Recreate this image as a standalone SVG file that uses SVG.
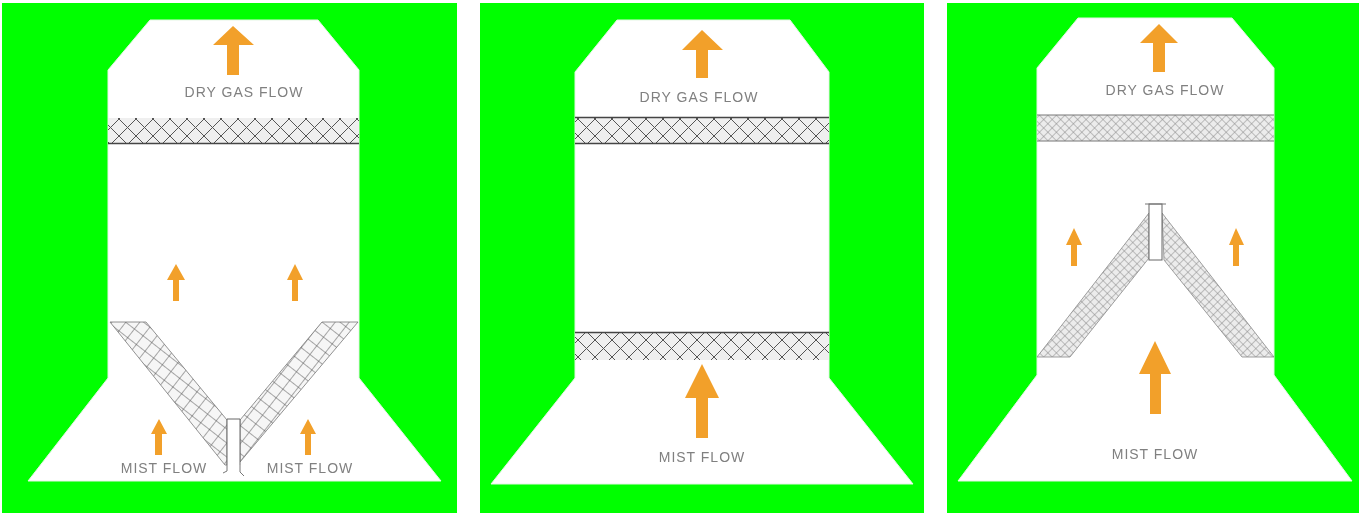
<svg xmlns="http://www.w3.org/2000/svg" width="1359" height="513" viewBox="0 0 1359 513">
<defs>
<filter id="soft" x="-2%" y="-2%" width="104%" height="104%"><feGaussianBlur stdDeviation="0.55"/></filter>
<pattern id="hatchWide" width="17" height="17" patternUnits="userSpaceOnUse">
<rect width="17" height="17" fill="#efefef"/>
<path d="M0 0L17 17M17 0L0 17" stroke="#555" stroke-width="1" fill="none"/>
</pattern>
<pattern id="hatchGrid" width="11" height="11" patternUnits="userSpaceOnUse" patternTransform="rotate(38)">
<rect width="11" height="11" fill="#f6f6f6"/>
<path d="M0 0H11M0 0V11" stroke="#555" stroke-width="1" fill="none"/>
</pattern>
<pattern id="hatchFine" width="6" height="6" patternUnits="userSpaceOnUse" patternTransform="rotate(45)">
<rect width="6" height="6" fill="#ececec"/>
<path d="M0 0H6M0 0V6" stroke="#888" stroke-width="1" fill="none"/>
</pattern>
</defs>
<style>
.bg{fill:#00ff00}
.body{fill:#fff;stroke:#e4f5e4;stroke-width:1}
.arrow{fill:#f2a02a}
.label{font-family:"Liberation Sans",Arial,sans-serif;font-size:14px;fill:#808080;letter-spacing:1px;text-anchor:middle}
.edge{stroke:#444;stroke-width:1.4;fill:none}
.thin{stroke:#777;stroke-width:1;fill:none}
.pipe{fill:#fff;stroke:#666;stroke-width:1}
</style>
<rect width="1359" height="513" fill="#fff"/>
<g filter="url(#soft)">
<g id="panel-1">
<rect class="bg" x="2" y="3" width="455" height="510"/>
<path class="body" d="M150 20H318L359 70V378L441 481H28L108 378V70Z"/>
<g id="pad-1-top">
<rect x="108" y="118" width="251" height="25" fill="url(#hatchWide)"/>
<path class="edge" d="M108 143.500H359"/>
</g>
<g id="pad-1-v">
<path d="M110 322H146L227 420V465L225 465Z" fill="url(#hatchGrid)" stroke="#777" stroke-width="0.8"/>
<path d="M358 322H322L240 420V462Z" fill="url(#hatchGrid)" stroke="#777" stroke-width="0.8"/>
<path class="pipe" d="M227 465V419H240V465"/>
<path class="thin" d="M227 465V471L223 473M240 465V472L244 476"/>
</g>
<polygon class="arrow" points="233,26 254,45 239,45 239,75 227,75 227,45 213,45"/>
<polygon class="arrow" points="176,264 185,280 179,280 179,301 173,301 173,280 167,280"/>
<polygon class="arrow" points="295,264 303,280 298,280 298,301 292,301 292,280 287,280"/>
<polygon class="arrow" points="159,419 167,434 162,434 162,455 155,455 155,434 151,434"/>
<polygon class="arrow" points="308,419 316,434 311,434 311,455 305,455 305,434 300,434"/>
<text class="label" x="244" y="97">DRY GAS FLOW</text>
<text class="label" x="164" y="473">MIST FLOW</text>
<text class="label" x="310" y="473">MIST FLOW</text>
</g>
<g id="panel-2">
<rect class="bg" x="480" y="3" width="444" height="510"/>
<path class="body" d="M617 20H790L829 72V378L913 484H491L575 378V72Z"/>
<g id="pad-2-top">
<rect x="575" y="118" width="254" height="25" fill="url(#hatchWide)"/>
<path class="edge" d="M575 117.500H829M575 143.500H829"/>
</g>
<g id="pad-2-bottom">
<rect x="575" y="333" width="254" height="27" fill="url(#hatchWide)"/>
<path class="edge" d="M575 332.500H829"/>
</g>
<polygon class="arrow" points="702,30 723,50 708,50 708,78 696,78 696,50 682,50"/>
<polygon class="arrow" points="702,364 719,398 708,398 708,438 696,438 696,398 685,398"/>
<text class="label" x="699" y="102">DRY GAS FLOW</text>
<text class="label" x="702" y="462">MIST FLOW</text>
</g>
<g id="panel-3">
<rect class="bg" x="947" y="3" width="412" height="510"/>
<path class="body" d="M1078 18H1232L1274 68V375L1352 481H958L1037 375V68Z"/>
<g id="pad-3-top">
<rect x="1037" y="115" width="237" height="26" fill="url(#hatchFine)"/>
<path class="thin" d="M1037 115H1274M1037 141H1274"/>
</g>
<g id="pad-3-v">
<path d="M1149 213V258L1070 357H1037Z" fill="url(#hatchFine)" stroke="#888" stroke-width="0.8"/>
<path d="M1162 213L1274 357H1242L1164 260Z" fill="url(#hatchFine)" stroke="#888" stroke-width="0.8"/>
<rect class="pipe" x="1149" y="204" width="13" height="56"/>
<path class="thin" d="M1145 204H1166"/>
</g>
<polygon class="arrow" points="1159,24 1178,43 1165,43 1165,72 1153,72 1153,43 1140,43"/>
<polygon class="arrow" points="1074,228 1082,245 1077,245 1077,266 1071,266 1071,245 1066,245"/>
<polygon class="arrow" points="1236,228 1244,245 1239,245 1239,266 1233,266 1233,245 1229,245"/>
<polygon class="arrow" points="1155,341 1171,374 1161,374 1161,414 1150,414 1150,374 1139,374"/>
<text class="label" x="1165" y="95">DRY GAS FLOW</text>
<text class="label" x="1155" y="459">MIST FLOW</text>
</g>
</g>
</svg>
